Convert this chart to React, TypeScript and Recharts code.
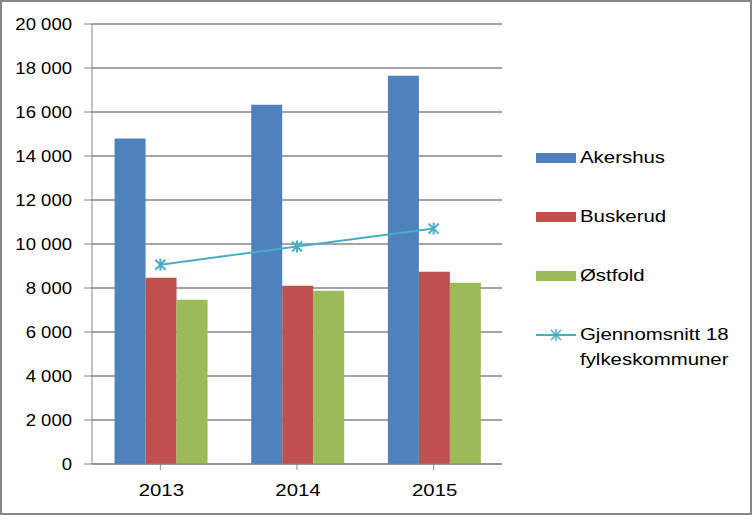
import React from "react";
import {
  ComposedChart,
  Bar,
  Line,
  XAxis,
  YAxis,
  CartesianGrid,
} from "recharts";

const YEARS = ["2013", "2014", "2015"];
const AKERSHUS = [14800, 16330, 17650];
const BUSKERUD = [8470, 8100, 8740];
const OSTFOLD = [7470, 7880, 8240];
const SNITT = [9060, 9890, 10700];
const Y_TICKS = [0, 2000, 4000, 6000, 8000, 10000, 12000, 14000, 16000, 18000, 20000];

const SERIES = [
  { key: "akershus", name: "Akershus", color: "#4F81BD" },
  { key: "buskerud", name: "Buskerud", color: "#C0504D" },
  { key: "ostfold", name: "Østfold", color: "#9BBB59" },
];
const LINE_COLOR = "#4BACC6";
const AXIS_COLOR = "#868686";
const FONT = "'Liberation Sans', Arial, sans-serif";

const data = YEARS.map((year, i) => ({
  year,
  akershus: AKERSHUS[i],
  buskerud: BUSKERUD[i],
  ostfold: OSTFOLD[i],
  snitt: SNITT[i],
}));

const formatTick = (v: number) =>
  String(v).replace(/\B(?=(\d{3})+(?!\d))/g, " ");

const Star = (props: any) => {
  const { cx, cy } = props;
  if (cx == null || cy == null) return null;
  const r = 5;
  return (
    <g stroke={LINE_COLOR} strokeWidth={2}>
      <line x1={cx - r} y1={cy - r} x2={cx + r} y2={cy + r} />
      <line x1={cx - r} y1={cy + r} x2={cx + r} y2={cy - r} />
      <line x1={cx} y1={cy - r - 1} x2={cx} y2={cy + r + 1} />
    </g>
  );
};

// text in the original is a little wider than Arial, so it is stretched
const XTick = (props: any) => {
  const { x, y, payload } = props;
  return (
    <g transform={`translate(${x + 1},${y + 13}) scale(1.2,1)`}>
      <text x={0} y={0} textAnchor="middle" fill="#000" fontSize={17} fontFamily={FONT}>
        {payload.value}
      </text>
    </g>
  );
};

const YTick = (props: any) => {
  const { x, y, payload } = props;
  return (
    <g transform={`translate(${x},${y + 6}) scale(1.09,1)`}>
      <text x={0} y={0} textAnchor="end" fill="#000" fontSize={17} fontFamily={FONT}>
        {formatTick(payload.value)}
      </text>
    </g>
  );
};

const stretch: React.CSSProperties = {
  display: "inline-block",
  transform: "scaleX(1.2)",
  transformOrigin: "left center",
  whiteSpace: "nowrap",
};

const LegendBox = () => (
  <div
    style={{
      position: "absolute",
      left: 534,
      top: 146,
      width: 215,
      fontFamily: FONT,
      fontSize: 17,
      color: "#000",
    }}
  >
    {SERIES.map((s) => (
      <div
        key={s.key}
        style={{ display: "flex", alignItems: "center", height: 20, marginBottom: 39 }}
      >
        <div style={{ width: 40, height: 10, background: s.color, marginRight: 4 }} />
        <span style={stretch}>{s.name}</span>
      </div>
    ))}
    <div style={{ display: "flex", alignItems: "flex-start" }}>
      <svg width={40} height={20} style={{ marginRight: 4, flex: "none" }}>
        <line x1={0} y1={10} x2={40} y2={10} stroke={LINE_COLOR} strokeWidth={2} />
        <g stroke={LINE_COLOR} strokeWidth={1.5}>
          <line x1={15} y1={5} x2={25} y2={15} />
          <line x1={15} y1={15} x2={25} y2={5} />
          <line x1={20} y1={4} x2={20} y2={16} />
        </g>
      </svg>
      <span style={{ ...stretch, lineHeight: "24.5px", marginTop: -2 }}>
        Gjennomsnitt 18
        <br />
        fylkeskommuner
      </span>
    </div>
  </div>
);

export default function App() {
  return (
    <div
      style={{
        position: "absolute",
        left: 0,
        top: 0,
        width: 752,
        height: 515,
        boxSizing: "border-box",
        border: `2px solid ${AXIS_COLOR}`,
        background: "#fff",
      }}
    >
      <div style={{ position: "absolute", left: -2, top: -2 }}>
        <ComposedChart
          width={752}
          height={515}
          data={data}
          margin={{ top: 24, right: 250, bottom: 0, left: 0 }}
          barCategoryGap="16.5%"
          barGap={0}
        >
          <CartesianGrid vertical={false} stroke={AXIS_COLOR} strokeWidth={1.5} />
          <XAxis
            dataKey="year"
            height={51}
            stroke={AXIS_COLOR}
            tickSize={6}
            tickMargin={13}
            tick={<XTick />}
            interval={0}
          />
          <YAxis
            width={92}
            domain={[0, 20000]}
            ticks={Y_TICKS}
            stroke={AXIS_COLOR}
            tickSize={8}
            tickMargin={12}
            tick={<YTick />}
            interval={0}
          />
          {SERIES.map((s) => (
            <Bar
              key={s.key}
              dataKey={s.key}
              name={s.name}
              fill={s.color}
              isAnimationActive={false}
            />
          ))}
          <Line
            dataKey="snitt"
            name="Gjennomsnitt 18 fylkeskommuner"
            stroke={LINE_COLOR}
            strokeWidth={2}
            dot={<Star />}
            activeDot={false}
            isAnimationActive={false}
          />
        </ComposedChart>
      </div>
      <LegendBox />
    </div>
  );
}
